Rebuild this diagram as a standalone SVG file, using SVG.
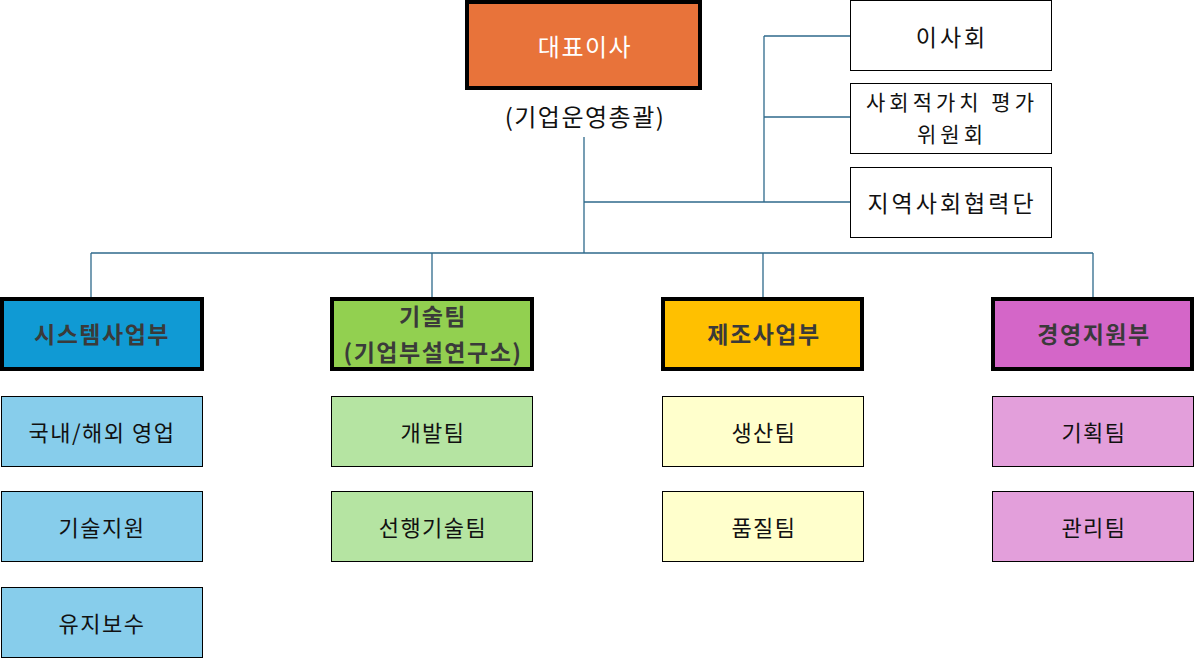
<svg xmlns="http://www.w3.org/2000/svg" width="1195" height="659" viewBox="0 0 1195 659">
<style>
text{font-family:"Noto Sans CJK KR","Noto Sans",sans-serif;text-anchor:middle;dominant-baseline:central}
.top{fill:#E8733A;stroke:#000;stroke-width:4}
.side{fill:#fff;stroke:#000;stroke-width:1}
.l2{stroke:#000;stroke-width:4}
.sub{stroke:#000;stroke-width:1}
.t1{font-size:24px;letter-spacing:1.5px}
.tr{font-size:23px;letter-spacing:3px;fill:#111}
.t2{font-size:23px;font-weight:bold;fill:#3a3a3a;letter-spacing:1.5px}
.ts{font-size:22px;fill:#111;letter-spacing:1.5px}
.conn{fill:none;stroke:#2F6A8C;stroke-width:1.3}
</style>
<g id="connectors">
<path class="conn" d="M584 137V253M584 202H850M764 36V202M764 36H850M764 117H850M91 253H1093M91 253V298M432 253V298M763 253V298M1093 253V298"/>
</g>
<g id="ceo"><rect class="top" x="467" y="2" width="233" height="86"/><text x="585" y="45" class="t1" fill="#fff">대표이사</text><text x="585" y="115" class="t1" fill="#111">(기업운영총괄)</text></g>
<g id="board"><rect class="side" x="850.5" y="0.5" width="201" height="70"/><text x="952" y="36" class="tr">이사회</text></g>
<g id="svc"><rect class="side" x="850.5" y="83.5" width="201" height="70"/><text x="952" y="101" class="tr" style="font-size:21px;letter-spacing:4px">사회적가치 평가</text><text x="952" y="133" class="tr" style="font-size:21px;letter-spacing:4px">위원회</text></g>
<g id="local"><rect class="side" x="850.5" y="167.5" width="201" height="70"/><text x="952" y="202" class="tr">지역사회협력단</text></g>
<g id="sys"><rect class="l2" fill="#109AD4" x="2" y="299" width="200" height="70"/><text x="102" y="333" class="t2">시스템사업부</text></g>
<g id="tech"><rect class="l2" fill="#92D050" x="332" y="299" width="200" height="70"/><text class="t2"><tspan x="433" y="315">기술팀</tspan><tspan x="433" y="351">(기업부설연구소)</tspan></text></g>
<g id="mfg"><rect class="l2" fill="#FFC000" x="663" y="299" width="199" height="70"/><text x="764" y="333" class="t2">제조사업부</text></g>
<g id="mgmt"><rect class="l2" fill="#D466C8" x="993" y="299" width="199" height="70"/><text x="1094" y="333" class="t2">경영지원부</text></g>
<g id="sales"><rect class="sub" fill="#87CDEB" x="1.5" y="396.5" width="201" height="70"/><text x="102" y="431" class="ts">국내/해외 영업</text></g>
<g id="support"><rect class="sub" fill="#87CDEB" x="1.5" y="491.5" width="201" height="70"/><text x="102" y="526" class="ts">기술지원</text></g>
<g id="maint"><rect class="sub" fill="#87CDEB" x="1.5" y="587.5" width="201" height="70"/><text x="102" y="622" class="ts">유지보수</text></g>
<g id="dev"><rect class="sub" fill="#B5E4A2" x="331.5" y="396.5" width="201" height="70"/><text x="433" y="431" class="ts">개발팀</text></g>
<g id="adv"><rect class="sub" fill="#B5E4A2" x="331.5" y="491.5" width="201" height="70"/><text x="433" y="526" class="ts">선행기술팀</text></g>
<g id="prod"><rect class="sub" fill="#FFFFCC" x="662.5" y="396.5" width="201" height="70"/><text x="764" y="431" class="ts">생산팀</text></g>
<g id="qa"><rect class="sub" fill="#FFFFCC" x="662.5" y="491.5" width="201" height="70"/><text x="764" y="526" class="ts">품질팀</text></g>
<g id="plan"><rect class="sub" fill="#E39FDB" x="992.5" y="396.5" width="201" height="70"/><text x="1094" y="431" class="ts">기획팀</text></g>
<g id="admin"><rect class="sub" fill="#E39FDB" x="992.5" y="491.5" width="201" height="70"/><text x="1094" y="526" class="ts">관리팀</text></g>
</svg>
